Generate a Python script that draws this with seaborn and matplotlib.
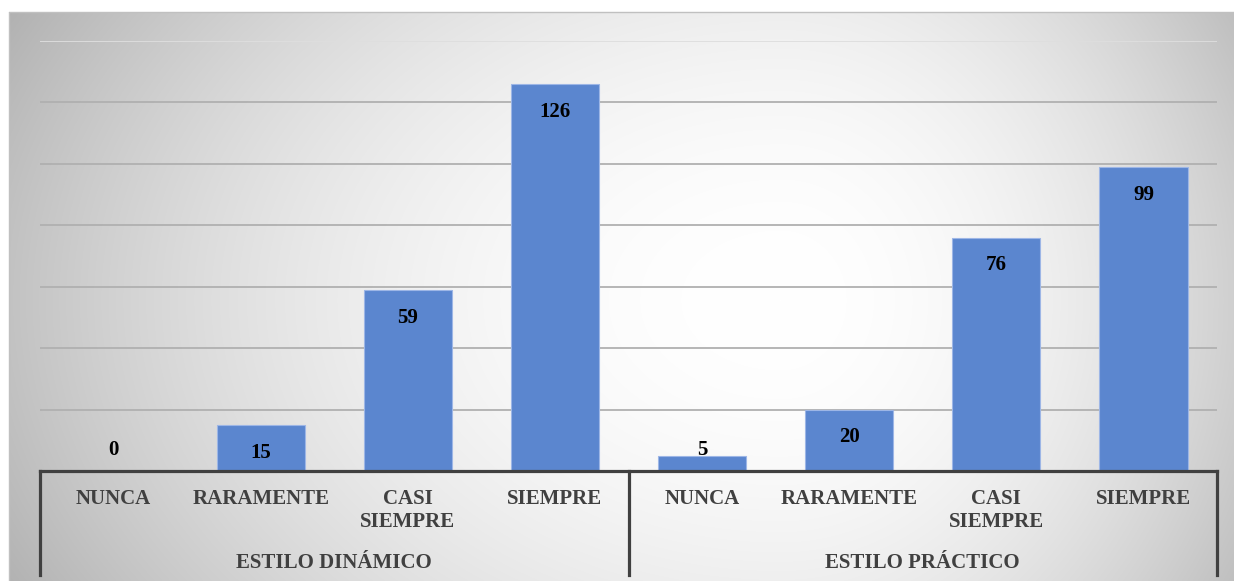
import numpy as np
import pandas as pd
import matplotlib
matplotlib.use("Agg")
import matplotlib.pyplot as plt
import matplotlib.transforms as mtransforms
import seaborn as sns

# ---- data ----
groups = ["ESTILO DINÁMICO", "ESTILO PRÁCTICO"]
categories = ["NUNCA", "RARAMENTE", "CASI\nSIEMPRE", "SIEMPRE"]
dinamico = [0, 15, 59, 126]
practico = [5, 20, 76, 99]
y_max = 140
y_step = 20

rows = []
for g, vals in zip(groups, [dinamico, practico]):
    for c, v in zip(categories, vals):
        rows.append({"group": g, "cat": c, "key": g + "|" + c, "value": v})
df = pd.DataFrame(rows)
order = list(df["key"])

sns.set_theme(style="white")
plt.rcParams["font.family"] = ["Liberation Serif", "DejaVu Serif"]

W, H = 1234, 581
fig = plt.figure(figsize=(W / 100, H / 100), dpi=100)

# ---- background gradient ----
bg = fig.add_axes([0, 0, 1, 1], zorder=-10)
yy, xx = np.mgrid[0:H, 0:W].astype(float)
cx, cy = 780.0, 300.0
dx = xx - cx
sx = np.where(dx < 0, 780.0, 520.0)
r2 = (dx / sx) ** 2 + ((yy - cy) / 550.0) ** 2
v = 255 - 62 * np.clip(r2, 0, 1.3)
v = np.clip(v, 0, 255) / 255.0
v[:12, :] = 1.0
v[:, :9] = 1.0
img = np.dstack([v, v, v])
bg.imshow(img, aspect="auto", extent=[0, W, H, 0], interpolation="bilinear")
bg.plot([9, 9], [12, H], color="#c0c0c0", lw=1)
bg.plot([9, W], [12, 12], color="#c0c0c0", lw=1)
bg.set_xlim(0, W)
bg.set_ylim(H, 0)
bg.axis("off")

# ---- main axes ----
left, right = 40 / W, 1217 / W
bottom, top = 1 - 471 / H, 1 - 41 / H
ax = fig.add_axes([left, bottom, right - left, top - bottom])
ax.patch.set_alpha(0)

sns.barplot(data=df, x="key", y="value", order=order, color="#5b86cf",
            width=0.6, edgecolor="#9db6e6", linewidth=0.8, saturation=1,
            ax=ax, zorder=3)

ax.set_xlim(-0.5, len(order) - 0.5)
ax.set_ylim(0, y_max)
ax.set_yticks(np.arange(y_step, y_max + 1, y_step))
ax.yaxis.grid(True, color="#b0b0b0", lw=1.3, zorder=0)
gl = ax.get_ygridlines()
gl[-1].set_color("#dedede")
ax.set_yticklabels([])
ax.tick_params(axis="y", length=0)
ax.set_xticks([])
ax.set_xlabel("")
ax.set_ylabel("")
for s in ["left", "right", "top"]:
    ax.spines[s].set_visible(False)
ax.spines["bottom"].set_color("#404040")
ax.spines["bottom"].set_linewidth(2.3)
ax.spines["bottom"].set_zorder(5)

# ---- value labels ----
values = list(df["value"])
for patch, val in zip(ax.patches, values):
    xc = patch.get_x() + patch.get_width() / 2
    if val >= 10:
        ax.annotate(str(val), (xc, val), xytext=(0, -20), textcoords="offset points",
                    ha="center", va="center", fontsize=15, fontweight="bold",
                    color="black", zorder=6)
    else:
        ax.annotate(str(val), (xc, 5), xytext=(0, -3), textcoords="offset points",
                    ha="center", va="bottom", fontsize=15, fontweight="bold",
                    color="black", zorder=6)

# ---- multi-level category axis ----
trans = mtransforms.blended_transform_factory(ax.transData, ax.transAxes)
ax_h = 430.0
for i, k in enumerate(order):
    ax.text(i, -18 / ax_h, df["cat"][i], transform=trans, ha="center", va="top",
            fontsize=15, fontweight="bold", color="#404040", linespacing=1.2)
n = len(categories)
for gi, g in enumerate(groups):
    xc = gi * n + (n - 1) / 2
    ax.text(xc, -92 / ax_h, g, transform=trans, ha="center", va="center",
            fontsize=15, fontweight="bold", color="#404040")
for xs in [-0.5 + gi * n for gi in range(len(groups) + 1)]:
    ax.plot([xs, xs], [0, -104 / ax_h], transform=trans, color="#404040",
            lw=2.3, clip_on=False, solid_capstyle="projecting", zorder=5)

fig.savefig("out.png", dpi=100)
